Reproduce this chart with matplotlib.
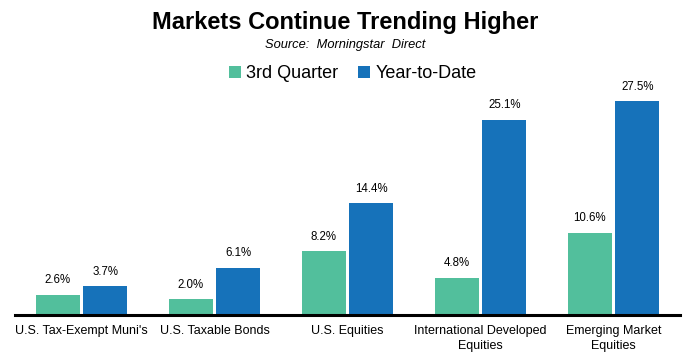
import matplotlib
matplotlib.use("Agg")
import matplotlib.pyplot as plt
import numpy as np

plt.rcParams['font.family'] = ['Liberation Sans', 'DejaVu Sans']

categories = ["U.S. Tax-Exempt Muni's", "U.S. Taxable Bonds", "U.S. Equities",
              "International Developed\nEquities", "Emerging Market\nEquities"]
q3 = [2.6, 2.0, 8.2, 4.8, 10.6]
ytd = [3.7, 6.1, 14.4, 25.1, 27.5]
series_names = ["3rd Quarter", "Year-to-Date"]
colors = ["#52BF9C", "#1672BA"]

W, H = 691, 354
fig = plt.figure(figsize=(W/100, H/100), dpi=100)
ax = fig.add_axes([15/W, 1-315/H, 665/W, 233.4/H])

x = np.arange(len(categories))
w = 0.33
off = 0.18
b1 = ax.bar(x - off, q3, w, color=colors[0], label=series_names[0])
b2 = ax.bar(x + off, ytd, w, color=colors[1], label=series_names[1])
for bars, vals in ((b1, q3), (b2, ytd)):
    for r, v in zip(bars, vals):
        ax.annotate(f"{v:.1f}%", (r.get_x() + r.get_width()/2, v), xytext=(0, 6),
                    textcoords="offset points", ha="center", va="bottom", fontsize=8.3)

ax.set_xlim(-0.5, 4.5)
ax.set_ylim(0, 30)
ax.set_yticks([])
ax.set_xticks(x)
ax.set_xticklabels(categories, fontsize=9, linespacing=1.3)
ax.tick_params(axis='x', length=0, pad=7.5)
for s in ['top', 'right', 'left']:
    ax.spines[s].set_visible(False)
ax.spines['bottom'].set_linewidth(2.2)
ax.spines['bottom'].set_color('black')

fig.text(0.5, 1-22/H, "Markets Continue Trending Higher", ha="center", va="center",
         fontsize=17, fontweight="bold")
fig.text(0.5, 1-45/H, "Source:  Morningstar  Direct", ha="center", va="center",
         fontsize=9.3, style="italic")
fig.legend(loc="center", bbox_to_anchor=(353/W, 1-74/H), ncol=2, frameon=False,
           fontsize=13, handlelength=0.65, handleheight=0.65, handletextpad=0.3,
           columnspacing=1.1)

fig.savefig("out.png", dpi=100)
